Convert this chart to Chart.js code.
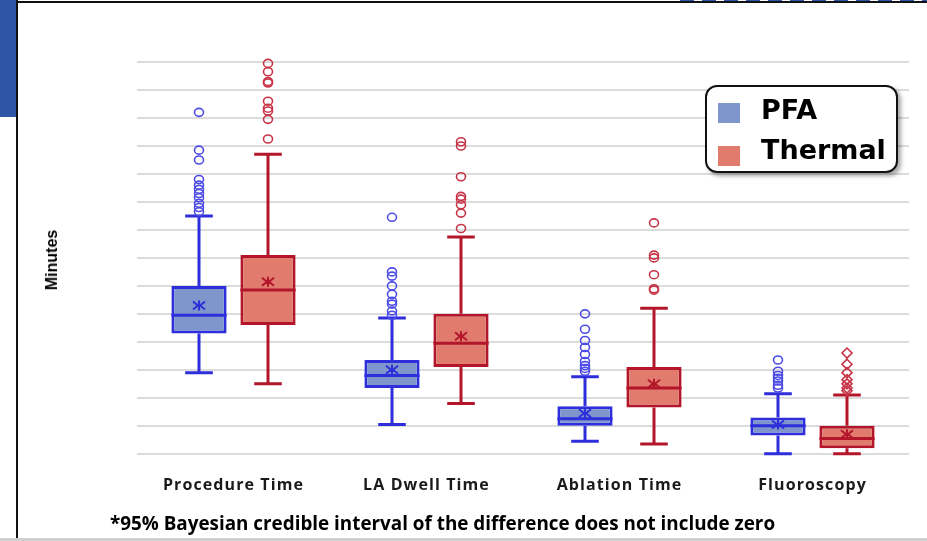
<!DOCTYPE html>
<html>
<head>
<meta charset="utf-8">
<script src="https://cdn.jsdelivr.net/npm/chart.js@4"></script>
<style>
  body { margin: 0; background: #fff; }
  #wrap { position: relative; width: 927px; height: 541px; overflow: hidden; }
  #myChart { position: absolute; left: 0; top: 0; }
  .deco { position: absolute; }
  #legend { position: absolute; left: 705px; top: 85px; width: 189px; height: 84px;
    border: 2px solid #111; border-radius: 12px; background: #fff;
    box-shadow: 3px 3px 4px rgba(0,0,0,0.35); }
  #legend .sw { position: absolute; left: 11px; width: 22px; height: 20px; }
  #legend .lbl { position: absolute; left: 54px; font: bold 27px "DejaVu Sans"; color: #000; line-height: 30px; }
  #ytitle { position: absolute; left: 52px; top: 260px; transform: translate(-50%, -50%) rotate(-90deg);
    font: bold 16px "Liberation Sans"; color: #000; white-space: nowrap; }
  #note { position: absolute; left: 110px; top: 510px; font: bold 18.85px "Open Sans"; color: #000; white-space: nowrap; }
</style>
</head>
<body>
<div id="wrap">
  <canvas id="myChart" width="927" height="541"></canvas>
  <!-- slide frame bits -->
  <div class="deco" style="left:0;top:0;width:16px;height:117px;background:#2F56A6"></div>
  <div class="deco" style="left:16px;top:0;width:2px;height:541px;background:#111"></div>
  <div class="deco" style="left:16px;top:1px;width:911px;height:2px;background:#111"></div>
  <div class="deco" style="left:680px;top:0;width:247px;height:1px;background:repeating-linear-gradient(90deg,#2F56A6 0 14px,#fff 14px 22px)"></div>
  <div class="deco" style="left:0;top:538px;width:927px;height:3px;background:#cfcfcf"></div>
  <div id="ytitle">Minutes</div>
  <div id="legend">
    <div class="sw" style="top:16px;background:#7F96CC"></div>
    <div class="lbl" style="top:8px">PFA</div>
    <div class="sw" style="top:59px;background:#E07B6D"></div>
    <div class="lbl" style="top:48px">Thermal</div>
  </div>
  <div id="note">*95% Bayesian credible interval of the difference does not include zero</div>
</div>
<script>
'use strict';

// minutes
const categories = ['Procedure Time', 'LA Dwell Time', 'Ablation Time', 'Fluoroscopy'];

const pfaMin    = [58, 21, 9, 0];
const pfaQ1     = [86, 47, 20, 13];
const pfaMedian = [99, 56, 25, 20];
const pfaQ3     = [120, 67, 34, 26];
const pfaMax    = [170, 97, 55, 43];
const pfaMean   = [106, 60, 29, 21];
const pfaOutliers = [
  [244, 217, 210, 196, 192, 189, 186, 183, 179, 176, 173],
  [169, 130, 127, 120, 114, 109, 107, 102, 99],
  [100, 89, 81, 76, 71, 66, 63, 61, 59],
  [67, 59, 56, 54, 52, 49, 47]
];

const thermalMin    = [50, 36, 7, 0];
const thermalQ1     = [92, 62, 33, 4];
const thermalMedian = [117, 79, 47, 11];
const thermalQ3     = [142, 100, 62, 20];
const thermalMax    = [214, 155, 104, 42];
const thermalMean   = [123, 84, 50, 14];
const thermalOutliers = [
  [279, 273, 266, 265, 252, 247, 245, 239, 225],
  [223, 220, 198, 184, 182, 178, 172, 161],
  [165, 142, 140, 128, 118, 117],
  [72, 64, 58, 53, 50, 47, 45]
];

const yMin = 0, yMax = 280, yStep = 20;

// whiskers, medians, means and outliers on top of the floating bars
const boxPlot = {
  id: 'boxPlot',
  beforeDraw(chart) {
    // spaced-out category labels
    chart.ctx.letterSpacing = '1.1px';
  },
  beforeDatasetsDraw(chart) {
    chart.ctx.letterSpacing = '0px';
  },
  afterDatasetsDraw(chart) {
    const ctx = chart.ctx;
    const y = chart.scales.y;
    chart.data.datasets.forEach((ds, di) => {
      const meta = chart.getDatasetMeta(di);
      const s = ds.stats;
      meta.data.forEach((bar, i) => {
        const x = bar.x;
        const half = bar.width / 2;
        const cap = half / 2;
        ctx.save();
        ctx.strokeStyle = ds.borderColor;
        ctx.lineWidth = 3;
        ctx.beginPath();
        // whiskers
        ctx.moveTo(x, y.getPixelForValue(s.q3[i]));
        ctx.lineTo(x, y.getPixelForValue(s.max[i]));
        ctx.moveTo(x - cap, y.getPixelForValue(s.max[i]));
        ctx.lineTo(x + cap, y.getPixelForValue(s.max[i]));
        ctx.moveTo(x, y.getPixelForValue(s.q1[i]));
        ctx.lineTo(x, y.getPixelForValue(s.min[i]));
        ctx.moveTo(x - cap, y.getPixelForValue(s.min[i]));
        ctx.lineTo(x + cap, y.getPixelForValue(s.min[i]));
        // median
        ctx.moveTo(x - half, y.getPixelForValue(s.median[i]));
        ctx.lineTo(x + half, y.getPixelForValue(s.median[i]));
        ctx.stroke();

        // mean marker
        const my = y.getPixelForValue(s.mean[i]);
        ctx.lineWidth = 2;
        ctx.beginPath();
        ctx.moveTo(x, my - 5); ctx.lineTo(x, my + 5);
        ctx.moveTo(x - 6, my - 4); ctx.lineTo(x - 1, my); ctx.lineTo(x - 6, my + 4);
        ctx.moveTo(x + 6, my - 4); ctx.lineTo(x + 1, my); ctx.lineTo(x + 6, my + 4);
        ctx.stroke();

        // outliers
        ctx.strokeStyle = ds.outlierColor;
        ctx.lineWidth = 1.6;
        s.outliers[i].forEach(v => {
          const oy = y.getPixelForValue(v);
          ctx.beginPath();
          if (ds.outlierStyle[i] === 'rectRot') {
            ctx.moveTo(x, oy - 5); ctx.lineTo(x + 5, oy);
            ctx.lineTo(x, oy + 5); ctx.lineTo(x - 5, oy);
            ctx.closePath();
          } else {
            ctx.ellipse(x, oy, 4.5, 4, 0, 0, Math.PI * 2);
          }
          ctx.stroke();
        });
        ctx.restore();
      });
    });
  }
};

const ctx = document.getElementById('myChart').getContext('2d');

new Chart(ctx, {
  type: 'bar',
  data: {
    labels: categories,
    datasets: [{
      label: 'PFA',
      data: categories.map((c, i) => [pfaQ1[i], pfaQ3[i]]),
      backgroundColor: '#7F96CC',
      borderColor: '#2E2EDB',
      borderWidth: 3,
      borderSkipped: false,
      outlierColor: '#4B4BE6',
      outlierStyle: ['circle', 'circle', 'circle', 'circle'],
      stats: { min: pfaMin, q1: pfaQ1, median: pfaMedian, q3: pfaQ3, max: pfaMax, mean: pfaMean, outliers: pfaOutliers }
    }, {
      label: 'Thermal',
      data: categories.map((c, i) => [thermalQ1[i], thermalQ3[i]]),
      backgroundColor: '#E07B6D',
      borderColor: '#B3162B',
      borderWidth: 3,
      borderSkipped: false,
      outlierColor: '#C73447',
      outlierStyle: ['circle', 'circle', 'circle', 'rectRot'],
      stats: { min: thermalMin, q1: thermalQ1, median: thermalMedian, q3: thermalQ3, max: thermalMax, mean: thermalMean, outliers: thermalOutliers }
    }]
  },
  options: {
    responsive: false,
    animation: false,
    devicePixelRatio: 1,
    barPercentage: 0.8,
    categoryPercentage: 0.715,
    layout: { padding: { left: 137, top: 62, right: 18, bottom: 24 } },
    plugins: {
      legend: { display: false },
      tooltip: { enabled: false }
    },
    scales: {
      x: {
        grid: { display: false, drawTicks: false },
        border: { display: false },
        ticks: { padding: 22, color: '#1a1a1a', font: { family: 'Open Sans', weight: 'bold', size: 16 } }
      },
      y: {
        min: yMin,
        max: yMax,
        ticks: { stepSize: yStep, display: false },
        grid: { color: '#dcdcdc', lineWidth: 2, drawTicks: false },
        border: { display: false }
      }
    }
  },
  plugins: [boxPlot]
});
</script>
</body>
</html>
